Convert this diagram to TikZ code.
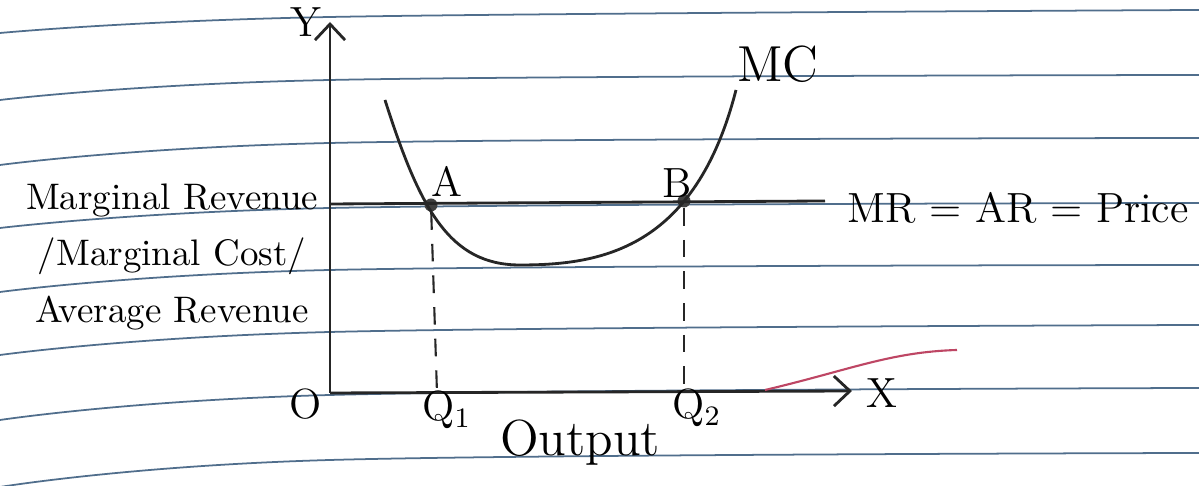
\documentclass[tikz,border=0pt]{standalone}
\usepackage{tikz}
\usetikzlibrary{arrows.meta,positioning,calc}
\definecolor{ruleblue}{RGB}{80,110,140}
\definecolor{inkpink}{RGB}{190,70,100}

\begin{document}
\begin{tikzpicture}[x=0.01cm, y=-0.01cm,
  ink/.style={line width=0.8pt, black!85},
  ax/.style={ink, -{Straight Barb[length=1.6mm, width=3mm]}},
  guide/.style={ink, line width=0.6pt, dash pattern=on 5pt off 4pt},
  lbl/.style={font=\normalsize, inner sep=1pt},
  pt/.style={circle, fill=black!75, inner sep=0pt, minimum size=1.3mm}]
\useasboundingbox (0,0) rectangle (1199,486);
\fill[white] (0,0) rectangle (1199,486);
\foreach \l/\m/\r in {33/17/10, 100/80/75, 165/143/138, 228/208/203,
                      292/270/265, 355/332/325, 420/395/388, 487/460/453}
  \draw[ruleblue, line width=0.5pt] plot[smooth, tension=0.6] coordinates {(0,\l) (330,\m) (1199,\r)};
\coordinate (O) at (330,393);
\coordinate (ytip) at (330,22);
\coordinate (xtip) at (852,391);
\coordinate (mrL) at (330,204);
\coordinate (mrR) at (825,201);
\coordinate (q1) at (437,393);
\coordinate (q2) at (684,392);
\coordinate (mcL) at (385,100);
\coordinate (mcLow) at (520,265);
\coordinate (mcR) at (736,90);
\node[pt] (A) at (431,205) {};
\node[pt] (B) at (684,201) {};
\draw[ax] (O) -- (ytip);
\draw[ax] (O) -- (xtip);
\draw[ink] (mrL) -- (mrR);
\draw[guide] (A) -- (q1);
\draw[guide] (B) -- (q2);
\draw[ink] (mcL) .. controls (420,210) and (450,265) .. (mcLow)
  .. controls (600,265) and (695,250) .. (mcR);
\draw[inkpink, line width=0.6pt] (765,390) .. controls (850,370) and (890,352) .. (957,350);
\node[lbl, font=\large] (ylab) at (306,22) {Y};
\node[lbl, font=\large] (xlab) at (882,393) {X};
\node[lbl, font=\large] (olab) at (306,404) {O};
\node[lbl, font=\Large] (mclab) at (778,64) {MC};
\node[lbl, font=\large] (alab) at (447,181) {A};
\node[lbl, font=\large] (blab) at (677,183) {B};
\node[lbl, font=\large, anchor=west] (mrlab) at (843,208) {MR = AR = Price};
\node[lbl, font=\large] (q1lab) at (447,410) {Q$_1$};
\node[lbl, font=\large] (q2lab) at (697,408) {Q$_2$};
\node[lbl, font=\Large] (outlab) at (580,443) {Output};
\node[lbl, align=center, font=\fontsize{10.5}{16}\selectfont] (ytext) at (172,257)
  {Marginal Revenue\\ /Marginal Cost/\\ Average Revenue};
\end{tikzpicture}
\end{document}
